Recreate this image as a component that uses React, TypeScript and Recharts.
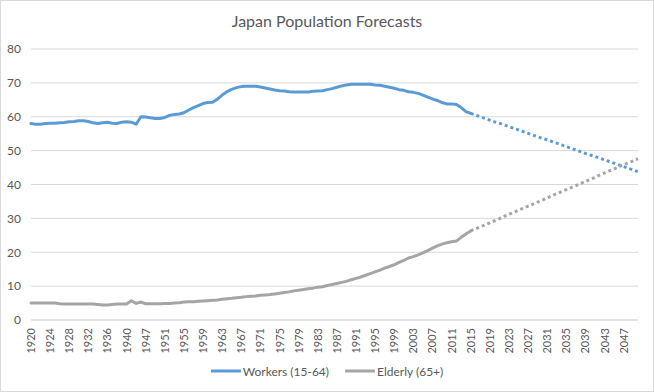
import { LineChart, Line, XAxis, YAxis, CartesianGrid, Legend } from 'recharts';

// categories: yearly, with the war-time gap (1941-1943 missing)
const earlyYears = [
  1920, 1921, 1922, 1923, 1924, 1925, 1926, 1927, 1928, 1929, 1930,
  1931, 1932, 1933, 1934, 1935, 1936, 1937, 1938, 1939, 1940,
  1944, 1945, 1946,
];
const laterYears = Array.from({ length: 2050 - 1947 + 1 }, (_, i) => 1947 + i);
const years = [...earlyYears, ...laterYears];

const LAST_ACTUAL = 2015;

// share of population (%), actual 1920-2015
const workersActual = [
  58.0, 57.8, 57.8, 58.0, 58.1, 58.1, 58.2, 58.3, 58.5, 58.6, 58.8,
  58.8, 58.6, 58.2, 58.0, 58.2, 58.4, 58.1, 58.0, 58.4, 58.5,
  58.4, 57.8, 60.0,
  59.9, 59.7, 59.5, 59.5, 59.8, 60.4, 60.7, 60.8, 61.2, 62.0,
  62.7, 63.3, 63.9, 64.2, 64.3, 65.2, 66.4, 67.4, 68.1, 68.6,
  68.9, 69.0, 69.0, 69.0, 68.8, 68.5, 68.2, 67.9, 67.7, 67.6,
  67.4, 67.3, 67.3, 67.3, 67.3, 67.5, 67.6, 67.7, 68.0, 68.3,
  68.7, 69.1, 69.4, 69.6, 69.6, 69.6, 69.6, 69.6, 69.4, 69.3,
  69.0, 68.7, 68.4, 68.0, 67.8, 67.4, 67.2, 66.9, 66.4, 65.8,
  65.3, 64.8, 64.2, 63.8, 63.8, 63.6, 62.7, 61.5, 61.0,
];
const elderlyActual = [
  5.0, 5.0, 5.0, 5.0, 5.0, 5.0, 4.8, 4.7, 4.7, 4.7, 4.7,
  4.7, 4.7, 4.7, 4.6, 4.4, 4.4, 4.6, 4.7, 4.7, 4.7,
  5.7, 4.9, 5.3,
  4.8, 4.8, 4.8, 4.8, 4.9, 4.9, 5.0, 5.1, 5.3, 5.4,
  5.4, 5.5, 5.6, 5.7, 5.8, 5.9, 6.1, 6.3, 6.4, 6.6,
  6.7, 6.9, 7.0, 7.1, 7.3, 7.4, 7.5, 7.7, 7.9, 8.1,
  8.3, 8.6, 8.8, 9.0, 9.2, 9.4, 9.7, 9.8, 10.2, 10.5,
  10.8, 11.1, 11.4, 11.9, 12.3, 12.7, 13.2, 13.7, 14.2, 14.7,
  15.3, 15.8, 16.3, 17.0, 17.6, 18.3, 18.7, 19.2, 19.8, 20.5,
  21.2, 21.9, 22.4, 22.8, 23.1, 23.3, 24.4, 25.4, 26.3,
];

// forecast 2016-2050
const workersForecast = [
  60.5, 60.0, 59.5, 59.0, 58.5, 58.1, 57.6, 57.1, 56.6, 56.1,
  55.6, 55.1, 54.6, 54.1, 53.6, 53.2, 52.7, 52.2, 51.7, 51.2,
  50.7, 50.2, 49.7, 49.2, 48.7, 48.3, 47.8, 47.3, 46.8, 46.3,
  45.8, 45.3, 44.8, 44.3, 43.8,
];
const elderlyForecast = [
  26.9, 27.5, 28.1, 28.7, 29.3, 29.9, 30.6, 31.2, 31.8, 32.4,
  33.0, 33.6, 34.2, 34.8, 35.4, 36.0, 36.7, 37.3, 37.9, 38.5,
  39.1, 39.7, 40.3, 40.9, 41.5, 42.1, 42.8, 43.4, 44.0, 44.6,
  45.2, 45.8, 46.4, 47.0, 47.6,
];

const yTicks = [0, 10, 20, 30, 40, 50, 60, 70, 80];

const series = [
  { name: 'Workers (15-64)', color: '#5B9BD5' },
  { name: 'Elderly (65+)', color: '#A5A5A5' },
];

const nActual = workersActual.length;
const data = years.map((year, i) => {
  const f = i - nActual; // forecast index
  return {
    year,
    workers: i < nActual ? workersActual[i] : null,
    elderly: i < nActual ? elderlyActual[i] : null,
    // forecast lines start at the last actual point so they connect
    workersF: year === LAST_ACTUAL ? workersActual[i] : f >= 0 ? workersForecast[f] : null,
    elderlyF: year === LAST_ACTUAL ? elderlyActual[i] : f >= 0 ? elderlyForecast[f] : null,
  };
});

const FONT = 'Lato, "Open Sans", sans-serif';
const TEXT = '#595959';

const XTick = ({ x, y, payload }: any) => (
  <text
    x={x}
    y={y}
    dy={4}
    transform={`rotate(-90, ${x}, ${y})`}
    textAnchor="end"
    fill={TEXT}
    fontSize={11}
    fontFamily={FONT}
  >
    {payload.value}
  </text>
);

const LegendBox = () => (
  <div
    style={{
      display: 'flex',
      justifyContent: 'center',
      alignItems: 'center',
      gap: 16,
      height: 22,
      fontFamily: FONT,
      fontSize: 12,
      color: TEXT,
    }}
  >
    {series.map((s) => (
      <span key={s.name} style={{ display: 'flex', alignItems: 'center' }}>
        <svg width={30} height={6} style={{ marginRight: 2 }}>
          <line x1={1} y1={3} x2={29} y2={3} stroke={s.color} strokeWidth={3} strokeLinecap="round" />
        </svg>
        {s.name}
      </span>
    ))}
  </div>
);

export default function App() {
  return (
    <div style={{ position: 'absolute', left: 0, top: 0, width: 654, height: 392, background: '#fff' }}>
      <div
        style={{
          position: 'absolute',
          top: 11,
          left: 0,
          width: 654,
          textAlign: 'center',
          fontFamily: FONT,
          fontSize: 16,
          lineHeight: '19px',
          color: TEXT,
        }}
      >
        Japan Population Forecasts
      </div>
      <LineChart
        width={654}
        height={392}
        data={data}
        margin={{ top: 49, right: 16, left: 0, bottom: 10 }}
      >
        <CartesianGrid vertical={false} stroke="#d9d9d9" />
        <XAxis
          dataKey="year"
          interval={3}
          height={40}
          tick={<XTick />}
          tickLine={false}
          axisLine={{ stroke: '#d9d9d9' }}
        />
        <YAxis
          domain={[0, 80]}
          ticks={yTicks}
          width={31}
          tickLine={false}
          axisLine={false}
          tickMargin={4}
          tick={{ fill: TEXT, fontSize: 12, fontFamily: FONT }}
        />
        <Legend
          verticalAlign="bottom"
          wrapperStyle={{ left: 0, width: 654 }}
          content={<LegendBox />}
        />
        <Line dataKey="workers" stroke={series[0].color} strokeWidth={3} dot={false}
          strokeLinecap="round" strokeLinejoin="round" isAnimationActive={false} legendType="none" />
        <Line dataKey="elderly" stroke={series[1].color} strokeWidth={3} dot={false}
          strokeLinecap="round" strokeLinejoin="round" isAnimationActive={false} legendType="none" />
        <Line dataKey="workersF" stroke={series[0].color} strokeWidth={3} dot={false}
          strokeDasharray="3 3" isAnimationActive={false} legendType="none" />
        <Line dataKey="elderlyF" stroke={series[1].color} strokeWidth={3} dot={false}
          strokeDasharray="3 3" isAnimationActive={false} legendType="none" />
      </LineChart>
      <div
        style={{
          position: 'absolute',
          left: 0,
          top: 0,
          width: 654,
          height: 392,
          border: '1px solid #d9d9d9',
          boxSizing: 'border-box',
          pointerEvents: 'none',
        }}
      />
    </div>
  );
}
